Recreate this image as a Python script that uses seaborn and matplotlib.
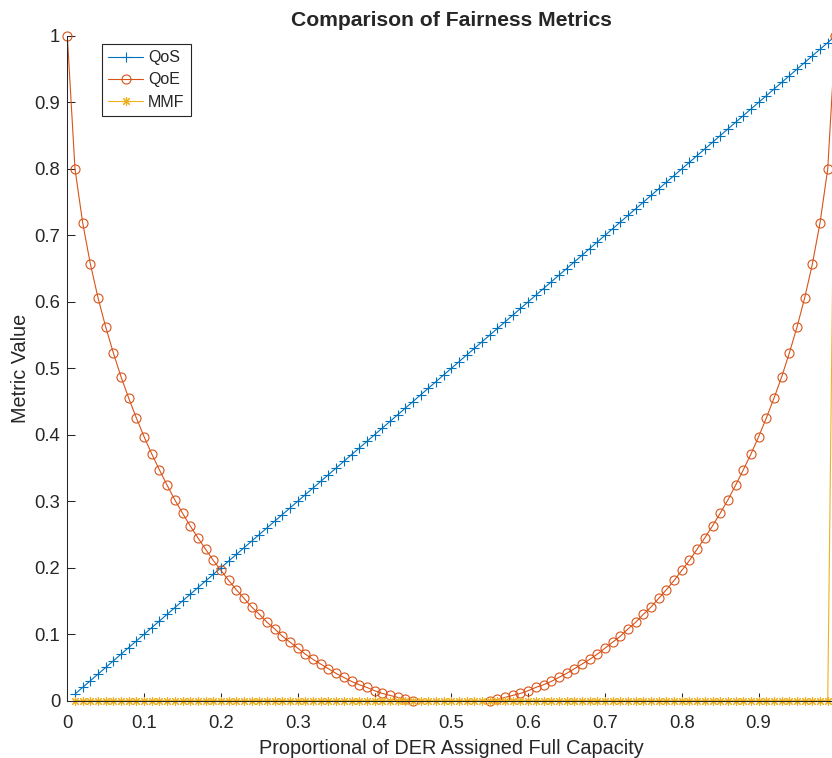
import numpy as np
import matplotlib
matplotlib.use('Agg')
import matplotlib.pyplot as plt
from matplotlib.lines import Line2D
from matplotlib.ticker import FormatStrFormatter
import seaborn as sns

sns.set_style('ticks')
plt.rcParams['font.family'] = ['Liberation Sans', 'DejaVu Sans']

# proportion of DER assigned full capacity
x_vals = [0.00, 0.01, 0.02, 0.03, 0.04, 0.05, 0.06, 0.07, 0.08, 0.09,
          0.10, 0.11, 0.12, 0.13, 0.14, 0.15, 0.16, 0.17, 0.18, 0.19,
          0.20, 0.21, 0.22, 0.23, 0.24, 0.25, 0.26, 0.27, 0.28, 0.29,
          0.30, 0.31, 0.32, 0.33, 0.34, 0.35, 0.36, 0.37, 0.38, 0.39,
          0.40, 0.41, 0.42, 0.43, 0.44, 0.45, 0.46, 0.47, 0.48, 0.49,
          0.50, 0.51, 0.52, 0.53, 0.54, 0.55, 0.56, 0.57, 0.58, 0.59,
          0.60, 0.61, 0.62, 0.63, 0.64, 0.65, 0.66, 0.67, 0.68, 0.69,
          0.70, 0.71, 0.72, 0.73, 0.74, 0.75, 0.76, 0.77, 0.78, 0.79,
          0.80, 0.81, 0.82, 0.83, 0.84, 0.85, 0.86, 0.87, 0.88, 0.89,
          0.90, 0.91, 0.92, 0.93, 0.94, 0.95, 0.96, 0.97, 0.98, 0.99,
          1.00]

# QoS (undefined at 0)
qos = [np.nan, 0.01, 0.02, 0.03, 0.04, 0.05, 0.06, 0.07, 0.08, 0.09,
       0.10, 0.11, 0.12, 0.13, 0.14, 0.15, 0.16, 0.17, 0.18, 0.19,
       0.20, 0.21, 0.22, 0.23, 0.24, 0.25, 0.26, 0.27, 0.28, 0.29,
       0.30, 0.31, 0.32, 0.33, 0.34, 0.35, 0.36, 0.37, 0.38, 0.39,
       0.40, 0.41, 0.42, 0.43, 0.44, 0.45, 0.46, 0.47, 0.48, 0.49,
       0.50, 0.51, 0.52, 0.53, 0.54, 0.55, 0.56, 0.57, 0.58, 0.59,
       0.60, 0.61, 0.62, 0.63, 0.64, 0.65, 0.66, 0.67, 0.68, 0.69,
       0.70, 0.71, 0.72, 0.73, 0.74, 0.75, 0.76, 0.77, 0.78, 0.79,
       0.80, 0.81, 0.82, 0.83, 0.84, 0.85, 0.86, 0.87, 0.88, 0.89,
       0.90, 0.91, 0.92, 0.93, 0.94, 0.95, 0.96, 0.97, 0.98, 0.99,
       1.00]

# QoE (dips slightly below 0 around the middle, clipped by the axis)
qoe = [1.000, 0.800, 0.719, 0.657, 0.606, 0.562, 0.523, 0.487, 0.455, 0.425,
       0.397, 0.371, 0.347, 0.324, 0.302, 0.282, 0.263, 0.245, 0.228, 0.211,
       0.196, 0.181, 0.167, 0.154, 0.141, 0.130, 0.118, 0.108, 0.097, 0.088,
       0.079, 0.070, 0.062, 0.055, 0.048, 0.041, 0.035, 0.029, 0.024, 0.020,
       0.015, 0.011, 0.008, 0.005, 0.002, 0.000, -0.002, -0.003, -0.004, -0.005,
       -0.005, -0.005, -0.004, -0.003, -0.002, 0.000, 0.002, 0.005, 0.008, 0.011,
       0.015, 0.020, 0.024, 0.029, 0.035, 0.041, 0.048, 0.055, 0.062, 0.070,
       0.079, 0.088, 0.097, 0.108, 0.118, 0.130, 0.141, 0.154, 0.167, 0.181,
       0.196, 0.211, 0.228, 0.245, 0.263, 0.282, 0.302, 0.324, 0.347, 0.371,
       0.397, 0.425, 0.455, 0.487, 0.523, 0.562, 0.606, 0.657, 0.719, 0.800,
       1.000]

# MMF (undefined at 0, zero until everyone gets full capacity)
mmf = [np.nan, 0, 0, 0, 0, 0, 0, 0, 0, 0,
       0, 0, 0, 0, 0, 0, 0, 0, 0, 0,
       0, 0, 0, 0, 0, 0, 0, 0, 0, 0,
       0, 0, 0, 0, 0, 0, 0, 0, 0, 0,
       0, 0, 0, 0, 0, 0, 0, 0, 0, 0,
       0, 0, 0, 0, 0, 0, 0, 0, 0, 0,
       0, 0, 0, 0, 0, 0, 0, 0, 0, 0,
       0, 0, 0, 0, 0, 0, 0, 0, 0, 0,
       0, 0, 0, 0, 0, 0, 0, 0, 0, 0,
       0, 0, 0, 0, 0, 0, 0, 0, 0, 0,
       1.0]

names = ['QoS', 'QoE', 'MMF']
colors = ['#0072BD', '#D95319', '#EDB120']
markers = ['+', 'o', (8, 2, 0)]
ticks = [0, 0.1, 0.2, 0.3, 0.4, 0.5, 0.6, 0.7, 0.8, 0.9, 1]

fig = plt.figure(figsize=(8.32, 7.58), dpi=100)
# axes runs a little past the right edge, like the cropped original
ax = fig.add_axes([0.0809, 0.0756, 0.9232, 0.877])

handles = []
for name, y, col, mk in zip(names, [qos, qoe, mmf], colors, markers):
    y = np.array(y, dtype=float)
    mfc = 'none' if mk == 'o' else col
    # line, clipped to the axes
    sns.lineplot(x=x_vals, y=y, ax=ax, color=col, lw=0.8,
                 estimator=None, sort=False)
    # markers for points inside the limits, not clipped (MATLAB style)
    y_in = np.where((y >= 0) & (y <= 1), y, np.nan)
    sns.lineplot(x=x_vals, y=y_in, ax=ax, color=col, ls='', marker=mk,
                 ms=6.5, mfc=mfc, mec=col, mew=0.8, clip_on=False,
                 estimator=None, sort=False)
    handles.append(Line2D([], [], color=col, lw=0.8, marker=mk, ms=6.5,
                          mfc=mfc, mec=col, mew=0.8))

ax.set_xlim(0, 1)
ax.set_ylim(0, 1)
ax.set_xticks(ticks)
ax.set_yticks(ticks)
ax.xaxis.set_major_formatter(FormatStrFormatter('%g'))
ax.yaxis.set_major_formatter(FormatStrFormatter('%g'))
ax.tick_params(direction='in', length=5.5, width=0.75, labelsize=13.3,
               colors='#262626')
ax.tick_params(axis='x', pad=10)
ax.tick_params(axis='y', pad=5)
sns.despine(ax=ax)
for s in ['left', 'bottom']:
    ax.spines[s].set_color('#262626')
    ax.spines[s].set_linewidth(0.75)

ax.set_xlabel('Proportional of DER Assigned Full Capacity', fontsize=14.3,
              color='#262626', labelpad=5)
ax.set_ylabel('Metric Value', fontsize=14.3, color='#262626', labelpad=3)
ax.set_title('Comparison of Fairness Metrics', fontsize=15.2,
             fontweight='bold', pad=7)

leg = ax.legend(handles, names, loc='upper left', bbox_to_anchor=(0.045, 0.988),
                fontsize=11.5, frameon=True, fancybox=False, framealpha=1,
                edgecolor='#262626', handlelength=2.2, borderpad=0.4,
                labelspacing=0.45, handletextpad=0.3, borderaxespad=0)
leg.get_frame().set_linewidth(0.8)

plt.savefig('out.png', dpi=100)
plt.close()
